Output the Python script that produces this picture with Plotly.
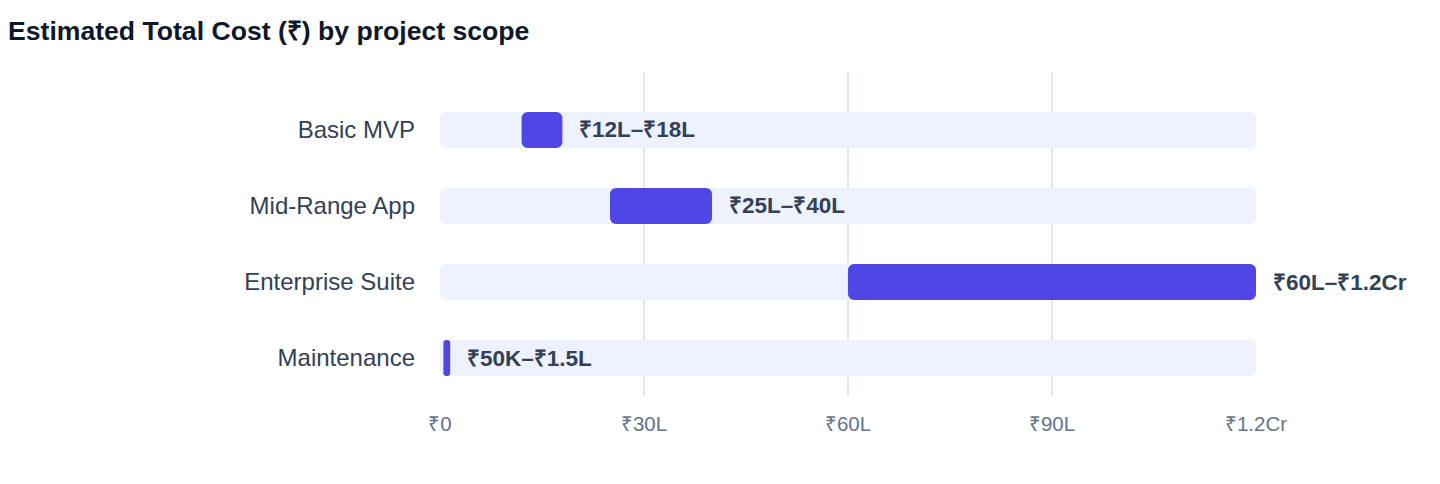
import plotly.graph_objects as go

# cost ranges in lakh (₹)
scopes = ["Basic MVP", "Mid-Range App", "Enterprise Suite", "Maintenance"]
low_lakh = [12, 25, 60, 0.5]
high_lakh = [18, 40, 120, 1.5]
range_labels = ["₹12L–₹18L", "₹25L–₹40L", "₹60L–₹1.2Cr", "₹50K–₹1.5L"]
track_max = 120
tick_vals = [0, 30, 60, 90, 120]
tick_text = ["₹0", "₹30L", "₹60L", "₹90L", "₹1.2Cr"]

FONT = "Helvetica Neue, Helvetica, Arial, Liberation Sans, sans-serif"

fig = go.Figure()

# light background track for each row
fig.add_bar(
    y=scopes,
    x=[track_max] * len(scopes),
    base=[0] * len(scopes),
    orientation="h",
    marker=dict(color="#EEF2FF", line=dict(width=0)),
    width=0.474,
    hoverinfo="skip",
    showlegend=False,
)

# actual cost range
fig.add_bar(
    y=scopes,
    x=[h - l for l, h in zip(low_lakh, high_lakh)],
    base=low_lakh,
    orientation="h",
    marker=dict(color="#4F46E5", line=dict(width=0)),
    width=0.474,
    customdata=range_labels,
    hovertemplate="%{y}: %{customdata}<extra></extra>",
    showlegend=False,
)

for scope, hi, lab in zip(scopes, high_lakh, range_labels):
    fig.add_annotation(
        x=hi, y=scope, text="<b>%s</b>" % lab,
        xanchor="left", yanchor="middle", xshift=15,
        showarrow=False,
        font=dict(family=FONT, size=22.5, color="#334155"),
    )

# page body adds an 8px margin, so the figure is drawn 8px smaller
fig.update_layout(
    barmode="overlay",
    barcornerradius=6,
    width=1432,
    height=476,
    margin=dict(l=432, r=184, t=64, b=88),
    paper_bgcolor="white",
    plot_bgcolor="white",
    font=dict(family=FONT),
    title=dict(
        text="<b>Estimated Total Cost (₹) by project scope</b>",
        font=dict(family=FONT, size=26.6, color="#0F172A"),
        xref="container", x=0, xanchor="left", pad=dict(l=0),
        yref="container", y=1 - 23 / 476, yanchor="middle",
    ),
    xaxis=dict(
        range=[0, track_max],
        tickvals=tick_vals,
        ticktext=tick_text,
        showgrid=True,
        gridcolor="#E2E8F0",
        gridwidth=1.5,
        zeroline=False,
        showline=False,
        ticks="",
        ticklabelstandoff=13,
        tickfont=dict(family=FONT, size=20.5, color="#64748B"),
        fixedrange=True,
    ),
    yaxis=dict(
        categoryorder="array",
        categoryarray=scopes,
        range=[3.5, -0.763],
        showgrid=False,
        zeroline=False,
        showline=False,
        ticks="",
        ticklabelstandoff=24,
        tickfont=dict(family=FONT, size=24, color="#334155"),
        fixedrange=True,
    ),
)

fig.write_html("out.html")
